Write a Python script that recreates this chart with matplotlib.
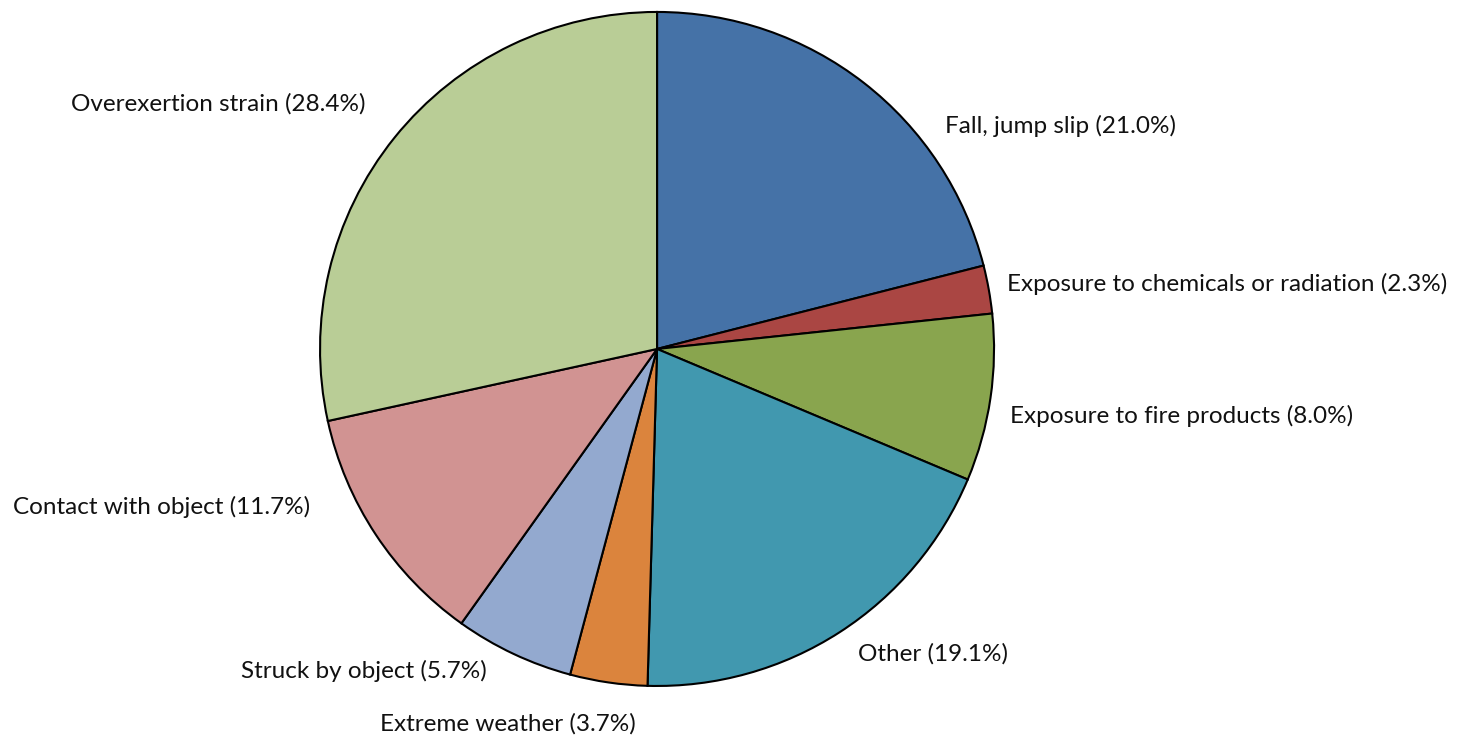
import matplotlib
matplotlib.use("Agg")
import matplotlib.pyplot as plt

# data, clockwise from 12 o'clock
categories = [
    "Fall, jump slip",
    "Exposure to chemicals or radiation",
    "Exposure to fire products",
    "Other",
    "Extreme weather",
    "Struck by object",
    "Contact with object",
    "Overexertion strain",
]
shares = [21.0, 2.3, 8.0, 19.1, 3.7, 5.7, 11.7, 28.4]

colors = ["#4572A7", "#AA4643", "#89A54E", "#4198AF",
          "#DB843D", "#93A9CF", "#D19392", "#B9CD96"]

# label anchors in units of pie radius (Excel-style placement)
label_pos = [(0.855, 0.662, "left"), (1.039, 0.193, "left"), (1.047, -0.199, "left"),
             (0.596, -0.905, "left"), (-0.062, -1.113, "right"), (-0.504, -0.955, "right"),
             (-1.030, -0.469, "right"), (-0.866, 0.727, "right")]

plt.rcParams['font.family'] = ['Lato', 'DejaVu Sans']

fig = plt.figure(figsize=(14.58, 7.38), dpi=100)
ax = fig.add_axes([0.2195, 0.0705, 0.4623, 0.9133])

wedges, _ = ax.pie(shares, colors=colors, startangle=90, counterclock=False,
                   radius=1.0, wedgeprops=dict(edgecolor="black", linewidth=1.5))

for name, val, (x, y, ha) in zip(categories, shares, label_pos):
    ax.text(x, y, f"{name} ({val:.1f}%)", ha=ha, va="center", fontsize=17.5, color="#111111")

ax.set_xlim(-1, 1)
ax.set_ylim(-1, 1)
ax.set_aspect("equal")
ax.axis("off")

fig.savefig("out.png", dpi=100)
